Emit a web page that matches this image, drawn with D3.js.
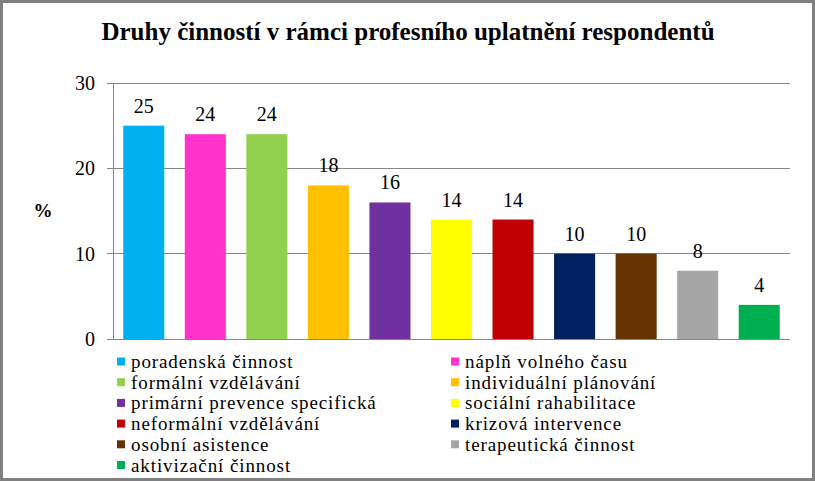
<!DOCTYPE html>
<html><head><meta charset="utf-8">
<script src="https://cdn.jsdelivr.net/npm/d3@7"></script>
<style>body{margin:0;background:#fff}svg{display:block}</style>
</head><body>
<svg id="c" width="815" height="481"></svg>
<script>
const categories = ["poradenská činnost","náplň volného času","formální vzdělávání","individuální plánování","primární prevence specifická","sociální rahabilitace","neformální vzdělávání","krizová intervence","osobní asistence","terapeutická činnost","aktivizační činnost"];
const values = [25,24,24,18,16,14,14,10,10,8,4];
const colors = ["#00B0F0","#FF33CC","#92D050","#FFC000","#7030A0","#FFFF00","#C00000","#002060","#663300","#A6A6A6","#00B050"];
const yTicks = [0,10,20,30];
const title = "Druhy činností v rámci profesního uplatnění respondentů";
const yLabel = "%";
const FF = "'Liberation Serif', 'Tinos', 'Noto Serif', 'DejaVu Serif', Times, serif";

const svg = d3.select("#c");
svg.append("rect").attr("x",1.5).attr("y",1.5).attr("width",812).attr("height",478)
  .attr("fill","#fff").attr("stroke","#808080").attr("stroke-width",3);

const L=113, R=790, T=83, B=339;
const x = d3.scaleBand().domain(categories).range([L,R]).paddingInner(0.333).paddingOuter(0.1665);
const y = d3.scaleLinear().domain([0,30]).range([B,T]);

svg.append("text").attr("x",408).attr("y",40).attr("text-anchor","middle")
  .style("font-family",FF).style("font-size","25px").style("font-weight","bold").text(title);

const g = svg.append("g");
g.selectAll("line.grid").data(yTicks).join("line").attr("class","grid")
  .attr("x1",L-6).attr("x2",R).attr("y1",d=>y(d)).attr("y2",d=>y(d))
  .attr("stroke","#868686").attr("stroke-width",1).attr("shape-rendering","crispEdges");
g.append("line").attr("x1",L).attr("x2",L).attr("y1",T).attr("y2",B)
  .attr("stroke","#868686").attr("shape-rendering","crispEdges");

const yAxis = d3.axisLeft(y).tickValues(yTicks).tickSize(0).tickPadding(18);
const ya = svg.append("g").attr("transform",`translate(${L},0)`).call(yAxis);
ya.select(".domain").remove();
ya.attr("font-family",null).attr("font-size",null);
ya.selectAll("text").style("font-family",FF).style("font-size","20px").style("font-weight","normal").attr("fill","#000");

svg.append("text").attr("x",43).attr("y",217).attr("text-anchor","middle")
  .style("font-family",FF).style("font-size","19px").style("font-weight","bold").text(yLabel);

svg.selectAll("rect.bar").data(values).join("rect").attr("class","bar")
  .attr("x",(d,i)=>x(categories[i])).attr("width",x.bandwidth())
  .attr("y",d=>y(d)).attr("height",d=>B-y(d)).attr("fill",(d,i)=>colors[i]);

svg.selectAll("text.lbl").data(values).join("text").attr("class","lbl")
  .attr("x",(d,i)=>x(categories[i])+x.bandwidth()/2).attr("y",d=>y(d)-13)
  .attr("text-anchor","middle").style("font-family",FF).style("font-size","20px").style("font-weight","normal").text(d=>d);

const lg = svg.append("g");
categories.forEach((c,i)=>{
  const col=i%2, row=Math.floor(i/2);
  const lx = col===0?117:451, ly = 362 + row*20.7;
  lg.append("rect").attr("x",lx).attr("y",ly-4.5).attr("width",8).attr("height",8).attr("fill",colors[i]);
  lg.append("text").attr("x",lx+14).attr("y",ly+6).style("font-family",FF).style("font-size","19px")
    .style("letter-spacing","0.9px").style("font-weight","normal").text(c);
});
</script>
</body></html>
